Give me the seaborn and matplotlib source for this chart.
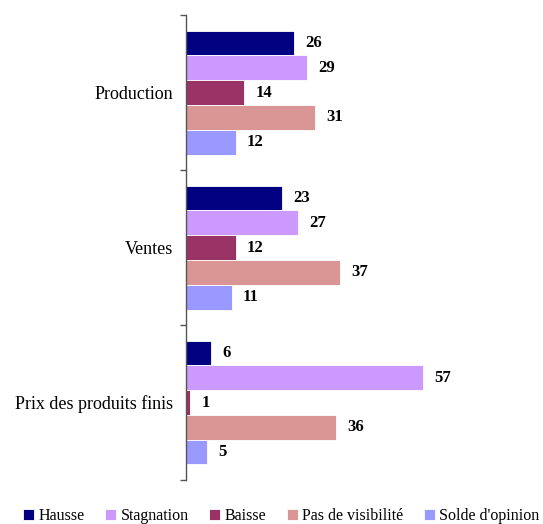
import pandas as pd
import numpy as np
import matplotlib.pyplot as plt
import seaborn as sns

# Data
categories = ['Production', 'Ventes', 'Prix des produits finis']
series = ['Hausse', 'Stagnation', 'Baisse', 'Pas de visibilité', "Solde d'opinion"]
hausse = [26, 23, 6]
stagnation = [29, 27, 57]
baisse = [14, 12, 1]
pas_visibilite = [31, 37, 36]
solde = [12, 11, 5]
colors = ['#000080', '#CC99FF', '#993366', '#DA9694', '#9999FF']

values = [hausse, stagnation, baisse, pas_visibilite, solde]
rows = []
for s, vals in zip(series, values):
    for c, v in zip(categories, vals):
        rows.append({'Categorie': c, 'Serie': s, 'Valeur': v})
df = pd.DataFrame(rows)

sns.set_style('white')
plt.rcParams['font.family'] = ['Liberation Serif', 'DejaVu Serif']
plt.rcParams['text.color'] = 'black'
plt.rcParams['ytick.labelcolor'] = 'black'

fig = plt.figure(figsize=(5.43, 5.24), dpi=100)
ax = fig.add_axes([0.3425, 0.084, 0.652, 0.887])

sns.barplot(data=df, y='Categorie', x='Valeur', hue='Serie', order=categories,
            hue_order=series, palette=colors, saturation=1, orient='h', width=0.8,
            edgecolor='white', linewidth=0.6, ax=ax, legend=True)

for cont in ax.containers:
    ax.bar_label(cont, padding=8, fontsize=12, fontweight='bold', color='black')

ax.set_xlim(0, 85)
ax.set_ylim(2.5, -0.5)
ax.set_xlabel('')
ax.set_ylabel('')
ax.set_xticks([])
for side in ['top', 'right', 'bottom']:
    ax.spines[side].set_visible(False)
ax.spines['left'].set_color('#555555')
ax.spines['left'].set_linewidth(1)

ax.set_yticks(range(len(categories)))
ax.set_yticklabels(categories, fontsize=13, color='black')
ax.tick_params(axis='y', which='major', length=0, pad=9)
ax.set_yticks([-0.5, 0.5, 1.5, 2.5], minor=True)
ax.tick_params(axis='y', which='minor', length=4, color='#555555', width=1, left=True)

handles, labels = ax.get_legend_handles_labels()
ax.get_legend().remove()
fig.legend(handles, labels, loc='lower center', bbox_to_anchor=(0.518, -0.012),
           ncol=5, frameon=False, fontsize=11.5, handlelength=0.7, handleheight=0.7,
           handletextpad=0.25, columnspacing=1.3, borderaxespad=0)

fig.savefig('out.png', dpi=100)
